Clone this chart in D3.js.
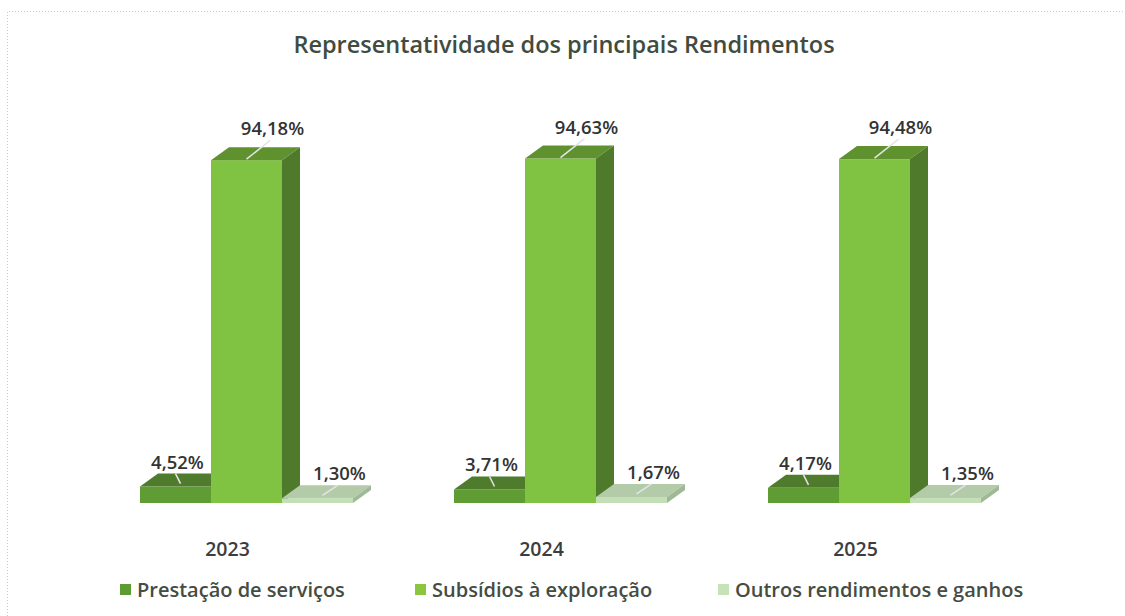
<!DOCTYPE html>
<html>
<head>
<meta charset="utf-8">
<script src="https://cdn.jsdelivr.net/npm/d3@7"></script>
<style>
  body { margin: 0; background: #fff; }
  svg { display: block; }
</style>
</head>
<body>
<div id="chart"></div>
<script>
var width = 1125,
    height = 616

// data
var years = ["2023", "2024", "2025"];
var series = ["Prestação de serviços", "Subsídios à exploração", "Outros rendimentos e ganhos"];
var prestacao = [4.52, 3.71, 4.17];
var subsidios = [94.18, 94.63, 94.48];
var outros = [1.30, 1.67, 1.35];

var values = [prestacao, subsidios, outros];

// colours per series: front / top / side
var colors = [
  {front: "#5f9c33", top: "#4f7b2c", side: "#436a25", key: "#5e9b32"},
  {front: "#80c242", top: "#5f922f", side: "#4f7a2b", key: "#8cc640"},
  {front: "#c3dfb5", top: "#b3cba9", side: "#9fb996", key: "#c5e3b7"}
];

var pt = d3.formatLocale({decimal: ",", thousands: ".", grouping: [3], currency: ["", "€"]});
var fmt = pt.format(".2f");

var svg = d3.select("#chart").append("svg")
    .attr("width", width)
    .attr("height", height);

// dotted frame
svg.append("path")
    .attr("d", "M7.5,616 L7.5,11.5 L1125,11.5")
    .attr("fill", "none")
    .attr("stroke", "#c8c8c8")
    .attr("stroke-dasharray", "1,2");

svg.append("text")
    .attr("x", 564)
    .attr("y", 53)
    .attr("text-anchor", "middle")
    .style("font-family", "'Open Sans', sans-serif")
    .style("font-size", "23.5px")
    .style("font-weight", 600)
    .style("fill", "#414c3f")
    .text("Representatividade dos principais Rendimentos");

var dx = 18, dy = 13;

var x0 = d3.scaleBand()
    .domain(years)
    .range([140, 981])
    .paddingInner(0.3217)
    .paddingOuter(0);

var x1 = d3.scaleBand()
    .domain(d3.range(series.length))
    .range([0, x0.bandwidth()]);

var y = d3.scaleLinear()
    .domain([0, 100])
    .range([503, 139]);

years.forEach(function(yr, i) {
  var g = svg.append("g").attr("transform", "translate(" + x0(yr) + ",0)");

  values.forEach(function(vals, s) {
    var v = vals[i];
    var a = x1(s), b = x1(s) + x1.bandwidth();
    var top = y(v), base = y(0);
    var c = colors[s];

    // front face
    g.append("rect")
      .attr("x", a).attr("y", top)
      .attr("width", b - a).attr("height", base - top)
      .attr("fill", c.front);
    // top face
    g.append("polygon")
      .attr("points", [[a, top], [a + dx, top - dy], [b + dx, top - dy], [b, top]].join(" "))
      .attr("fill", c.top);
    // side face
    g.append("polygon")
      .attr("points", [[b, top], [b + dx, top - dy], [b + dx, base - dy], [b, base]].join(" "))
      .attr("fill", c.side);

    // labels + leader lines
    var cx = (a + b) / 2, lx, ly;
    if (s == 1) { lx = cx + 26; ly = top - dy - 12; }
    else if (s == 0) { lx = cx + 2; ly = top - dy - 5; }
    else { lx = cx + 22; ly = top - dy - 5; }

    g.append("line")
      .attr("x1", lx - 2).attr("y1", ly + 5)
      .attr("x2", cx + dx / 2 - (s == 1 ? 9 : 4)).attr("y2", top - (s == 1 ? 1 : 3))
      .attr("stroke", "#e4e4e4")
      .attr("stroke-width", 1.5);

    g.append("text")
      .attr("x", lx).attr("y", ly)
      .attr("text-anchor", "middle")
      .style("font-family", "'Open Sans', sans-serif")
      .style("font-size", "18.5px")
      .style("font-weight", 600)
      .style("fill", "#333")
      .text(fmt(v) + "%");
  });

  svg.append("text")
    .attr("x", x0(yr) + x0.bandwidth() / 2 - 19)
    .attr("y", 556)
    .attr("text-anchor", "middle")
    .style("font-family", "'Open Sans', sans-serif")
    .style("font-size", "19.5px")
    .style("font-weight", 600)
    .style("fill", "#3d3d3d")
    .text(yr);
});

// legend
var legendX = [120, 415, 718];
var leg = svg.selectAll("g.leg")
    .data(series)
    .enter().append("g")
    .attr("class", "leg")
    .attr("transform", function(d, i) { return "translate(" + legendX[i] + ",590)"; });

leg.append("rect")
    .attr("x", 0).attr("y", -6)
    .attr("width", 11).attr("height", 11)
    .attr("fill", function(d, i) { return colors[i].key; });

leg.append("text")
    .attr("x", 17).attr("y", 7)
    .style("font-family", "'Open Sans', sans-serif")
    .style("font-size", "20px")
    .style("font-weight", 600)
    .style("fill", "#454c42")
    .text(function(d) { return d; });
</script>
</body>
</html>
